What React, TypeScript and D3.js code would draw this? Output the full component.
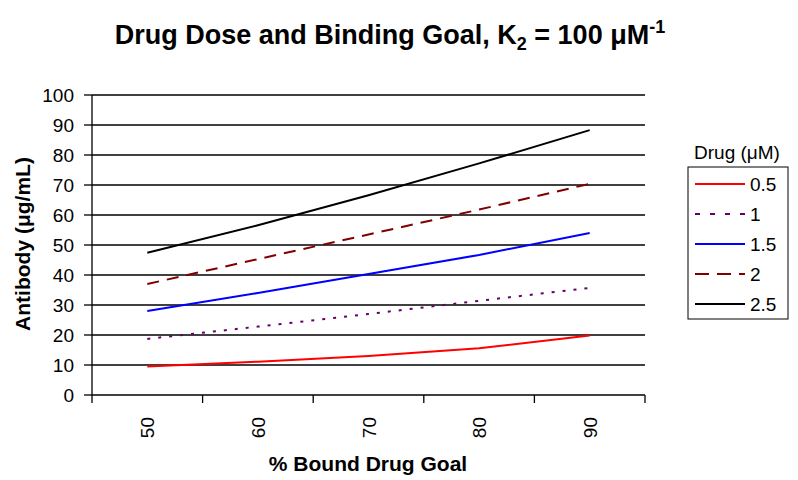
import React from "react";
import * as d3 from "d3";

const categories = ["50", "60", "70", "80", "90"];
const seriesNames = ["0.5", "1", "1.5", "2", "2.5"];
const s05 = [9.5, 11.1, 13.0, 15.6, 19.8];
const s1 = [18.7, 22.8, 27.0, 31.4, 35.7];
const s15 = [28.0, 34.0, 40.3, 46.7, 54.0];
const s2 = [37.0, 45.3, 53.5, 61.8, 70.4];
const s25 = [47.4, 56.6, 66.6, 77.2, 88.3];
const yTicks = [0, 10, 20, 30, 40, 50, 60, 70, 80, 90, 100];

const seriesValues = [s05, s1, s15, s2, s25];
const colors = ["#FF0000", "#660066", "#0000FF", "#800000", "#000000"];
const dashes = [null, "3,8", null, "12,8", null];
const legendDashes = [null, "5,10", null, "14,8", null];

const W = 798;
const H = 480;
const L = 92, R = 645, T = 95, B = 395;
const font = "'Liberation Sans', Arial, sans-serif";

export default function App() {
  const xBand = d3.scaleBand<string>().domain(categories).range([L, R]).paddingInner(0).paddingOuter(0);
  const xc = (c: string) => (xBand(c) as number) + xBand.bandwidth() / 2;
  const y = d3.scaleLinear().domain([0, 100]).range([B, T]);
  const line = d3
    .line<number>()
    .x((_, i) => xc(categories[i]))
    .y((d) => y(d));
  const boundaries = categories.map((c) => xBand(c) as number).concat([R]);

  return (
    <svg width={W} height={H} style={{ position: "absolute", left: 0, top: 0 }} fontFamily={font}>
      <rect x={0} y={0} width={W} height={H} fill="#fff" />
      <text x={390} y={44} textAnchor="middle" fontSize={27} fontWeight="bold">
        Drug Dose and Binding Goal, K
        <tspan fontSize={18} dy={6}>2</tspan>
        <tspan dy={-6}> = 100 μM</tspan>
        <tspan fontSize={18} dy={-11}>-1</tspan>
      </text>
      {yTicks.map((t) => (
        <g key={t}>
          {t > 0 && <line x1={L} x2={R} y1={y(t)} y2={y(t)} stroke="#000" strokeWidth={1.3} />}
          <line x1={L - 8} x2={L} y1={y(t)} y2={y(t)} stroke="#000" strokeWidth={1.3} />
          <text x={74} y={y(t) + 7} textAnchor="end" fontSize={19}>
            {t}
          </text>
        </g>
      ))}
      <line x1={L} x2={L} y1={T} y2={B} stroke="#000" strokeWidth={1.3} />
      <line x1={L} x2={R} y1={B} y2={B} stroke="#000" strokeWidth={1.3} />
      {boundaries.map((bx, i) => (
        <line key={i} x1={bx} x2={bx} y1={B} y2={B + 8} stroke="#000" strokeWidth={1.3} />
      ))}
      {categories.map((c) => (
        <text
          key={c}
          transform={`translate(${xc(c) + 7},417) rotate(-90)`}
          textAnchor="end"
          fontSize={19}
        >
          {c}
        </text>
      ))}
      <text x={368} y={471} textAnchor="middle" fontSize={21} fontWeight="bold">
        % Bound Drug Goal
      </text>
      <text transform={`translate(30,244) rotate(-90)`} textAnchor="middle" fontSize={21} fontWeight="bold">
        Antibody (μg/mL)
      </text>
      {seriesValues.map((vals, i) => (
        <path
          key={i}
          d={line(vals) as string}
          fill="none"
          stroke={colors[i]}
          strokeWidth={2}
          strokeDasharray={dashes[i] ?? undefined}
        />
      ))}
      <text x={737} y={159} textAnchor="middle" fontSize={19}>
        Drug (μM)
      </text>
      <rect x={688} y={167} width={100} height={152} fill="#fff" stroke="#000" strokeWidth={1} />
      {seriesNames.map((n, i) => {
        const ly = 184 + i * 30;
        return (
          <g key={n}>
            <line
              x1={695}
              x2={745}
              y1={ly}
              y2={ly}
              stroke={colors[i]}
              strokeWidth={2}
              strokeDasharray={legendDashes[i] ?? undefined}
            />
            <text x={750} y={ly + 7} fontSize={19}>
              {n}
            </text>
          </g>
        );
      })}
    </svg>
  );
}
